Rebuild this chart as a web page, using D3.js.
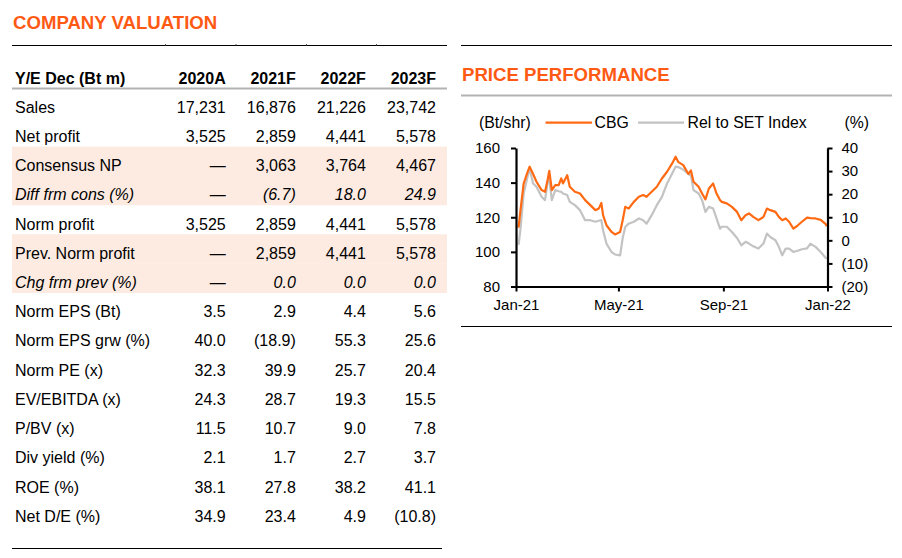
<!DOCTYPE html>
<html lang="en">

<head>
  <meta charset="UTF-8">
  <title>Company Valuation / Price Performance</title>
  <style>
    body {
      margin: 0;
      background: #fff;
    }

    svg {
      display: block;
      font-family: "Liberation Sans", Arial, sans-serif;
    }
  </style>
</head>

<body>

  <script src="https://d3js.org/d3.v7.min.js"></script>

  <script>
    // ---- table data ----
    const columns = ["2020A", "2021F", "2022F", "2023F"];
    const rowLabels = ["Sales", "Net profit", "Consensus NP", "Diff frm cons (%)", "Norm profit",
      "Prev. Norm profit", "Chg frm prev (%)", "Norm EPS (Bt)", "Norm EPS grw (%)", "Norm PE (x)",
      "EV/EBITDA (x)", "P/BV (x)", "Div yield (%)", "ROE (%)", "Net D/E (%)"];
    const col2020A = ["17,231", "3,525", "\u2014", "\u2014", "3,525", "\u2014", "\u2014", "3.5", "40.0", "32.3", "24.3", "11.5", "2.1", "38.1", "34.9"];
    const col2021F = ["16,876", "2,859", "3,063", "(6.7)", "2,859", "2,859", "0.0", "2.9", "(18.9)", "39.9", "28.7", "10.7", "1.7", "27.8", "23.4"];
    const col2022F = ["21,226", "4,441", "3,764", "18.0", "4,441", "4,441", "0.0", "4.4", "55.3", "25.7", "19.3", "9.0", "2.7", "38.2", "4.9"];
    const col2023F = ["23,742", "5,578", "4,467", "24.9", "5,578", "5,578", "0.0", "5.6", "25.6", "20.4", "15.5", "7.8", "3.7", "41.1", "(10.8)"];
    const shadedRows = ["Consensus NP", "Diff frm cons (%)", "Prev. Norm profit", "Chg frm prev (%)"];
    const italicRows = ["Diff frm cons (%)", "Chg frm prev (%)"];

    // ---- price data ----
    const priceDates = ["2021-01-04", "2021-01-06", "2021-01-10", "2021-01-14", "2021-01-17", "2021-01-21", "2021-01-25", "2021-01-31",
      "2021-02-04", "2021-02-07", "2021-02-09", "2021-02-12", "2021-02-16", "2021-02-20", "2021-02-23", "2021-02-25",
      "2021-03-02", "2021-03-05", "2021-03-11", "2021-03-17", "2021-03-23", "2021-03-29",
      "2021-04-04", "2021-04-08", "2021-04-11", "2021-04-13", "2021-04-17", "2021-04-23", "2021-04-27",
      "2021-05-03", "2021-05-06", "2021-05-09", "2021-05-13", "2021-05-19", "2021-05-25", "2021-05-30",
      "2021-06-03", "2021-06-09", "2021-06-15", "2021-06-21", "2021-06-27",
      "2021-07-03", "2021-07-07", "2021-07-10", "2021-07-16", "2021-07-22", "2021-07-25", "2021-07-28",
      "2021-08-03", "2021-08-07", "2021-08-11", "2021-08-15", "2021-08-20", "2021-08-24", "2021-08-28", "2021-08-30",
      "2021-09-05", "2021-09-11", "2021-09-17", "2021-09-22", "2021-09-27",
      "2021-10-01", "2021-10-06", "2021-10-12", "2021-10-18", "2021-10-22", "2021-10-26",
      "2021-11-01", "2021-11-05", "2021-11-09", "2021-11-13", "2021-11-17", "2021-11-22", "2021-11-26",
      "2021-12-02", "2021-12-08", "2021-12-12", "2021-12-18", "2021-12-24", "2021-12-30", "2021-12-31"];
    const cbgPrice = [114, 123, 139.5, 145.3, 149.2, 145, 140.5, 135.7,
      134.7, 141.5, 146.8, 135.7, 138.6, 138.6, 142.4, 139.5,
      144.3, 137.6, 134.7, 133.7, 129.9, 127,
      124.1, 125, 128.3, 121.2, 115.4, 111.5, 110.1,
      111.5, 118.3, 126, 125, 128.9, 131.8, 132.8,
      131.8, 134.7, 137.6, 142.4, 146.3,
      151.1, 155, 152, 150.1, 145, 147, 140.5,
      137.6, 133.7, 130.3, 136.6, 139.5, 133.7, 130, 128.9,
      128, 126, 123.1, 118.3, 121.2,
      122.2, 120.2, 118.3, 120.2, 125, 124.1,
      123.1, 120.2, 118.3, 119.3, 117.4, 113.4, 114.8,
      117.4, 119.8, 119.5, 119.3, 118.5, 116, 114.8];
    const relSetPrice = [104, 112, 133.7, 142.4, 148, 139.5, 137.6, 131.8,
      129.9, 140, 142, 129.9, 135.7, 135, 134.7, 133.7,
      132.8, 128.9, 127, 124.1, 118.3, 118.3,
      117.4, 118, 118.3, 112.5, 104.8, 99.9, 98.5,
      98, 108, 114.4, 116.3, 117.4, 119.3, 118.3,
      116.3, 121.2, 127, 131.8, 139.5,
      145.3, 149.2, 149, 147.5, 145, 144, 135.7,
      133.7, 129.9, 123.1, 126, 125, 119.3, 113.4, 114.5,
      114.5, 111.5, 108, 103.8, 105.8,
      104.8, 103.2, 101.9, 104.8, 110.6, 108.6,
      106.7, 102.9, 98, 101.9, 101.9, 100, 100.5,
      101.5, 102, 104.8, 102.9, 99.9, 96.5, 96];
    const leftTicks = [80, 100, 120, 140, 160];
    const rightTicks = [-20, -10, 0, 10, 20, 30, 40];
    const monthTicks = ["2021-01-01", "2021-05-01", "2021-09-01", "2022-01-01"];

    const orange = "#ff6a13";
    const titleOrange = "#ff5a14";
    const grey = "#c3c3c3";

    const svg = d3.select("body")
      .append("svg")
      .attr("width", 902)
      .attr("height", 558);

    // ================= COMPANY VALUATION =================
    svg.append("text")
      .attr("x", 13)
      .attr("y", 29)
      .attr("fill", titleOrange)
      .attr("font-size", 18.6)
      .attr("font-weight", "bold")
      .text("COMPANY VALUATION");

    svg.append("line")
      .attr("x1", 12).attr("x2", 447)
      .attr("y1", 45.5).attr("y2", 45.5)
      .attr("stroke", "#000");

    // tiny column markers on the top rule
    svg.selectAll(".colmark")
      .data([165.5, 236, 306.5, 376.5])
      .join("line")
      .attr("x1", d => d).attr("x2", d => d)
      .attr("y1", 44).attr("y2", 45.5)
      .attr("stroke", "#555");

    const colX = d3.scalePoint()
      .domain(columns)
      .range([225.7, 436]);

    const rowY = d3.scalePoint()
      .domain(rowLabels)
      .range([112.7, 521.8]);

    const rowStep = rowY.step();

    svg.append("g")
      .selectAll("rect")
      .data(rowLabels.filter(r => shadedRows.includes(r)))
      .join("rect")
      .attr("x", 12)
      .attr("width", 435)
      .attr("y", d => rowY(d) - 24.6)
      .attr("height", rowStep + 0.3)
      .attr("fill", "#fdebe2");

    // header
    svg.append("text")
      .attr("x", 15)
      .attr("y", 83.5)
      .attr("font-size", 16)
      .attr("font-weight", "bold")
      .text("Y/E Dec (Bt m)");

    svg.append("g")
      .selectAll("text")
      .data(columns)
      .join("text")
      .attr("x", d => colX(d))
      .attr("y", 83.5)
      .attr("text-anchor", "end")
      .attr("font-size", 16)
      .attr("font-weight", "bold")
      .text(d => d);

    svg.append("line")
      .attr("x1", 12).attr("x2", 447)
      .attr("y1", 88.5).attr("y2", 88.5)
      .attr("stroke", "#b3b3b3")
      .attr("stroke-width", 2);

    const cols = [col2020A, col2021F, col2022F, col2023F];

    const rows = svg.append("g")
      .selectAll("g")
      .data(rowLabels)
      .join("g")
      .attr("font-size", 16)
      .attr("font-style", d => italicRows.includes(d) ? "italic" : "normal")
      .attr("transform", d => `translate(0,${rowY(d)})`);

    rows.append("text")
      .attr("x", 15)
      .text(d => d);

    columns.forEach((c, j) => {
      rows.append("text")
        .attr("x", colX(c))
        .attr("text-anchor", "end")
        .text((d, i) => cols[j][i]);
    });

    svg.append("line")
      .attr("x1", 12).attr("x2", 442)
      .attr("y1", 548.5).attr("y2", 548.5)
      .attr("stroke", "#000");

    // ================= PRICE PERFORMANCE =================
    svg.append("line")
      .attr("x1", 461).attr("x2", 892)
      .attr("y1", 45.5).attr("y2", 45.5)
      .attr("stroke", "#000");

    svg.append("text")
      .attr("x", 462)
      .attr("y", 80.7)
      .attr("fill", titleOrange)
      .attr("font-size", 18.6)
      .attr("font-weight", "bold")
      .text("PRICE PERFORMANCE");

    svg.append("line")
      .attr("x1", 461).attr("x2", 892)
      .attr("y1", 95.5).attr("y2", 95.5)
      .attr("stroke", "#b3b3b3")
      .attr("stroke-width", 2);

    // legend
    const legend = svg.append("g").attr("font-size", 15.8);
    legend.append("text").attr("x", 479).attr("y", 128.3).text("(Bt/shr)");
    legend.append("line")
      .attr("x1", 545.5).attr("x2", 592)
      .attr("y1", 122.7).attr("y2", 122.7)
      .attr("stroke", orange).attr("stroke-width", 2.2);
    legend.append("text").attr("x", 594.5).attr("y", 128.3).text("CBG");
    legend.append("line")
      .attr("x1", 638).attr("x2", 684)
      .attr("y1", 122.7).attr("y2", 122.7)
      .attr("stroke", grey).attr("stroke-width", 2.2);
    legend.append("text").attr("x", 687.5).attr("y", 128.3).text("Rel to SET Index");
    legend.append("text").attr("x", 844.5).attr("y", 128.3).text("(%)");

    const parse = d3.timeParse("%Y-%m-%d");

    const x = d3.scaleTime()
      .domain([parse("2021-01-01"), parse("2022-01-01")])
      .range([516, 827.5]);

    const yL = d3.scaleLinear()
      .domain([80, 160])
      .range([286.5, 148]);

    const yR = d3.scaleLinear()
      .domain([-20, 40])
      .range([286.5, 148]);

    const fmtPct = d => d < 0 ? `(${Math.abs(d)})` : `${d}`;

    const styleAxis = g => {
      g.attr("font-family", null).attr("font-size", 15);
      g.select(".domain").attr("stroke-width", 2.2);
      g.selectAll(".tick line").attr("stroke-width", 2);
      g.selectAll(".tick text").attr("fill", "#000");
    };

    const line = (series) => d3.line()
      .x((d, i) => x(parse(priceDates[i])))
      .y(d => yL(d))(series);

    svg.append("path")
      .attr("d", line(relSetPrice))
      .attr("fill", "none")
      .attr("stroke", grey)
      .attr("stroke-width", 2.2)
      .attr("stroke-linejoin", "round");

    svg.append("path")
      .attr("d", line(cbgPrice))
      .attr("fill", "none")
      .attr("stroke", orange)
      .attr("stroke-width", 2.2)
      .attr("stroke-linejoin", "round");

    svg.append("g")
      .attr("transform", "translate(516,0)")
      .call(d3.axisLeft(yL).tickValues(leftTicks).tickSize(5).tickSizeOuter(0).tickPadding(11))
      .call(styleAxis);

    svg.append("g")
      .attr("transform", "translate(827.5,0)")
      .call(d3.axisRight(yR).tickValues(rightTicks).tickFormat(fmtPct).tickSize(5).tickSizeOuter(0).tickPadding(9))
      .call(styleAxis);

    svg.append("g")
      .attr("transform", "translate(0,286.5)")
      .call(d3.axisBottom(x).tickValues(monthTicks.map(parse)).tickFormat(d3.timeFormat("%b-%y")).tickSize(5).tickSizeOuter(0).tickPadding(8))
      .call(styleAxis);

    svg.append("line")
      .attr("x1", 461).attr("x2", 892)
      .attr("y1", 326.5).attr("y2", 326.5)
      .attr("stroke", "#000");
  </script>
</body>

</html>
